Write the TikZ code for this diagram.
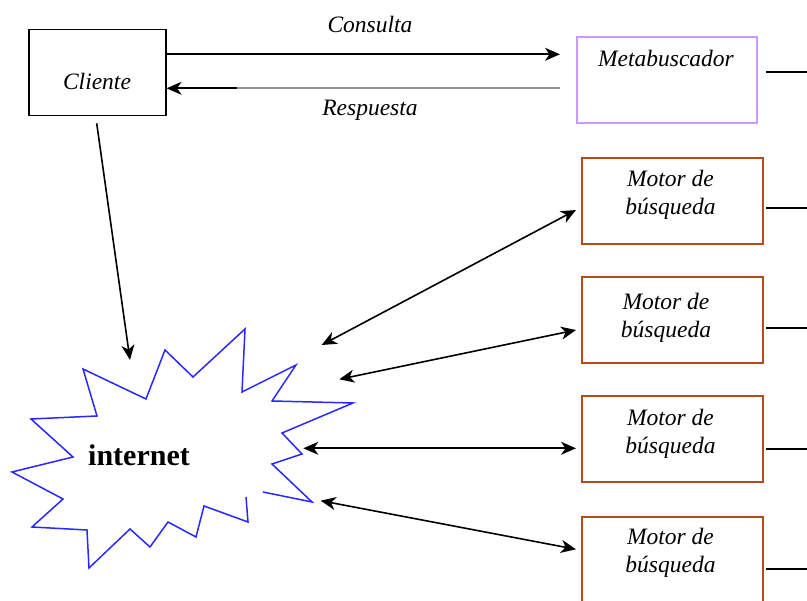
\documentclass[tikz,border=0pt]{standalone}
\usepackage{fontspec}
\setmainfont{Liberation Serif}
\usetikzlibrary{arrows.meta}
\definecolor{metac}{RGB}{204,153,255}
\definecolor{motorc}{RGB}{178,78,30}
\definecolor{starc}{RGB}{40,40,255}
\tikzset{
  boxk/.style={draw=black, line width=1.7pt, minimum width=137pt, minimum height=86pt, inner sep=0pt},
  metabox/.style={draw=metac, line width=1.5pt, minimum width=180pt, minimum height=86pt, inner sep=0pt},
  motorbox/.style={draw=motorc, line width=1.7pt, minimum width=181pt, minimum height=86pt, inner sep=0pt},
  lbl/.style={font=\fontsize{23.5}{28}\selectfont\itshape, inner sep=0pt, align=center},
  tip/.style={-{Stealth[length=15pt,width=13pt,inset=4.5pt]}},
  both/.style={{Stealth[length=15pt,width=13pt,inset=4.5pt]}-{Stealth[length=15pt,width=13pt,inset=4.5pt]}},
  conn/.style={line width=1.6pt, black},
  stub/.style={line width=1.7pt, black}
}
\begin{document}
\begin{tikzpicture}[x=1pt,y=-1pt]
\useasboundingbox (0,0) rectangle (807,601);
% boxes
\node[boxk] (cli) at (97.2,72.5) {};
\node[lbl, anchor=base] (clit) at (97,89.3) {Cliente};
\node[metabox] (meta) at (667,80) {};
\node[lbl, anchor=base] (metat) at (666,66.7) {Metabuscador};
\node[motorbox] (m1) at (672.2,201.3) {};
\node[motorbox] (m2) at (672.2,320.3) {};
\node[motorbox] (m3) at (672.2,439) {};
\node[motorbox] (m4) at (672.2,560.3) {};
\node[lbl] (t1) at (670.5,195) {Motor de\\búsqueda};
\node[lbl] (t2) at (666,318) {Motor de\\búsqueda};
\node[lbl] (t3) at (670.5,434) {Motor de\\búsqueda};
\node[lbl] (t4) at (670.5,553) {Motor de\\búsqueda};
% labels of the top arrows
\node[lbl] (cons) at (370,24) {Consulta};
\node[lbl] (resp) at (370,110) {Respuesta};
% internet star
\draw[starc, line width=1.5pt, line join=miter]
 (246,497) -- (248,522) -- (204,506) -- (196,537) -- (168,522) -- (150,547)
 -- (130,529) -- (89,568) -- (87,530) -- (32,527) -- (63,499) -- (12,472)
 -- (73,457) -- (31,419) -- (97,416) -- (83,369) -- (146,399) -- (165,350)
 -- (193,377) -- (245,329) -- (242,392) -- (296,365) -- (272,401) -- (353,403)
 -- (282,433) -- (302,454) -- (272,464) -- (312,502) -- (263,492);
\node[font=\fontsize{30}{34}\selectfont\bfseries, inner sep=0pt, anchor=base] (inet) at (139,465.7) {internet};
% coordinates
\coordinate (cq) at (560,54.3);
\coordinate (cs) at (165.7,54.3);
\coordinate (rq) at (560,88.3);
\coordinate (rmid) at (237,88.3);
\coordinate (cdown) at (96.7,123.3);
\coordinate (iin) at (130,360);
\coordinate (i1) at (321.7,345);
\coordinate (e1) at (576,210);
\coordinate (i2) at (339.3,379.3);
\coordinate (e2) at (576,330);
\coordinate (i3) at (303.3,448.3);
\coordinate (e3) at (576,448.3);
\coordinate (i4) at (320.7,500.7);
\coordinate (e4) at (576,549.3);
% connectors
\draw[conn, tip] (cs) -- (cq);
\draw[line width=1.8pt, black!42] (rq) -- (rmid);
\draw[conn, tip] (rmid) -- (cli.east |- rmid);
\draw[conn, tip] (cdown) -- (iin);
\draw[conn, both] (i1) -- (e1);
\draw[conn, both] (i2) -- (e2);
\draw[conn, both] (i3) -- (e3);
\draw[conn, both] (i4) -- (e4);
% stubs to the right edge
\coordinate (s0a) at (766,72.3);  \coordinate (s0b) at (807,72.3);
\coordinate (s1a) at (766,208.3); \coordinate (s1b) at (807,208.3);
\coordinate (s2a) at (766,327.7); \coordinate (s2b) at (807,327.7);
\coordinate (s3a) at (766,449.3); \coordinate (s3b) at (807,449.3);
\coordinate (s4a) at (766,569);   \coordinate (s4b) at (807,569);
\draw[stub] (s0a) -- (s0b);
\draw[stub] (s1a) -- (s1b);
\draw[stub] (s2a) -- (s2b);
\draw[stub] (s3a) -- (s3b);
\draw[stub] (s4a) -- (s4b);
\end{tikzpicture}
\end{document}
